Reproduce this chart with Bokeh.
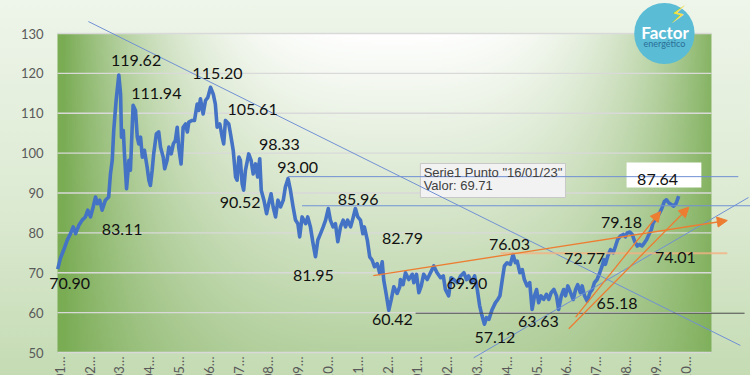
import math
import numpy as np
from bokeh.plotting import figure
from bokeh.models import FixedTicker, Range1d, Label, Arrow, NormalHead
from bokeh.embed import file_html
from bokeh.resources import INLINE

# ---------------- data ----------------
tick_labels = ["01…", "02…", "03…", "04…", "05…", "06…", "07…", "08…", "09…", "10…", "11…",
               "12…", "01…", "02…", "03…", "04…", "05…", "06…", "07…", "08…", "09…", "10…"]
y_ticks = [50, 60, 70, 80, 90, 100, 110, 120, 130]

months = [-0.07, 0.02, 0.13, 0.25, 0.36, 0.45, 0.53, 0.64, 0.75, 0.86, 0.94, 1.03, 1.12, 1.20, 1.26,
          1.34, 1.42, 1.53, 1.64, 1.70, 1.76, 1.81, 1.89, 1.98, 2.04, 2.07, 2.13, 2.17, 2.24, 2.32,
          2.37, 2.46, 2.54, 2.60, 2.65, 2.71, 2.77, 2.84, 2.93, 2.99, 3.04, 3.10, 3.15, 3.24, 3.32,
          3.38, 3.47, 3.52, 3.60, 3.66, 3.74, 3.81, 3.88, 3.94, 3.99, 4.07, 4.14, 4.22, 4.28, 4.33,
          4.44, 4.52, 4.61, 4.66, 4.72, 4.81, 4.89, 4.97, 5.06, 5.15, 5.22, 5.28, 5.37, 5.45, 5.50,
          5.56, 5.67, 5.73, 5.82, 5.90, 5.95, 6.01, 6.06, 6.12, 6.17, 6.23, 6.34, 6.42, 6.49, 6.57,
          6.64, 6.71, 6.76, 6.85, 6.94, 7.01, 7.09, 7.16, 7.24, 7.32, 7.41, 7.50, 7.57, 7.66, 7.74,
          7.83, 7.91, 7.99, 8.05, 8.13, 8.25, 8.32, 8.41, 8.50, 8.58, 8.66, 8.75, 8.84, 8.92, 9.01,
          9.08, 9.17, 9.25, 9.33, 9.42, 9.51, 9.59, 9.66, 9.76, 9.85, 9.92, 10.00, 10.09, 10.17, 10.22,
          10.32, 10.40, 10.48, 10.56, 10.65, 10.74, 10.82, 10.87, 10.95, 11.04, 11.12, 11.21, 11.32, 11.41, 11.43,
          11.52, 11.60, 11.71, 11.83, 11.88, 11.97, 12.05, 12.13, 12.21, 12.33, 12.44, 12.55, 12.66, 12.78, 12.87,
          12.94, 13.05, 13.13, 13.22, 13.34, 13.45, 13.56, 13.65, 13.72, 13.81, 13.92, 14.01, 14.09, 14.17, 14.25,
          14.32, 14.40, 14.51, 14.62, 14.70, 14.77, 14.85, 14.92, 15.01, 15.12, 15.21, 15.29, 15.35, 15.44, 15.52,
          15.59, 15.68, 15.77, 15.85, 15.93, 16.00, 16.07, 16.15, 16.24, 16.33, 16.41, 16.49, 16.58, 16.67, 16.74,
          16.83, 16.91, 16.97, 17.05, 17.14, 17.23, 17.31, 17.38, 17.47, 17.53, 17.61, 17.70, 17.79, 17.87, 17.94,
          18.03, 18.12, 18.20, 18.26, 18.31, 18.39, 18.48, 18.57, 18.65, 18.72, 18.81, 18.91, 18.98, 19.04, 19.13,
          19.21, 19.29, 19.38, 19.46, 19.54, 19.62, 19.69, 19.77, 19.85, 19.91, 19.99, 20.07, 20.13, 20.21, 20.29,
          20.36, 20.44, 20.52, 20.60, 20.69, 20.77]

prices = [70.9, 73.6, 75.7, 78.2, 79.8, 81.5, 79.8, 81.9, 83.2, 84.0, 85.7, 84.0, 86.5, 89.0, 87.3,
          88.2, 85.7, 88.2, 89.0, 94.8, 98.2, 105.7, 113.2, 119.6, 114.8, 104.0, 105.7, 99.8, 91.1, 98.2,
          95.7, 112.0, 110.7, 104.0, 102.3, 104.0, 99.0, 100.7, 96.5, 93.2, 91.9, 95.7, 99.8, 104.8, 105.3,
          101.5, 99.0, 96.1, 98.2, 101.5, 99.8, 102.3, 103.2, 106.5, 101.5, 97.3, 106.5, 107.3, 105.3, 107.8,
          108.2, 108.2, 112.3, 110.7, 113.6, 109.8, 113.2, 114.0, 116.5, 114.8, 112.3, 106.5, 107.3, 104.0, 102.3,
          108.2, 107.3, 104.8, 100.7, 94.0, 93.2, 99.0, 98.2, 92.3, 90.7, 95.7, 99.8, 98.2, 94.8, 97.3,
          94.0, 98.6, 90.7, 88.2, 84.8, 87.3, 89.8, 86.5, 84.0, 88.2, 86.5, 88.2, 91.5, 93.6, 90.7,
          86.5, 83.2, 82.3, 79.0, 84.0, 82.3, 84.0, 81.5, 77.3, 74.0, 78.2, 79.8, 81.5, 83.2, 86.1,
          83.2, 81.5, 82.3, 77.8, 81.5, 83.2, 81.5, 83.2, 81.5, 84.0, 86.1, 84.0, 83.2, 79.8, 81.5,
          78.2, 74.0, 73.2, 71.5, 72.3, 69.8, 72.75, 68.2, 64.8, 60.6, 63.2, 66.5, 64.8, 66.5, 68.3,
          67.0, 70.0, 68.3, 69.6, 67.5, 69.6, 65.0, 66.7, 69.6, 68.3, 70.0, 71.7, 70.0, 68.75, 69.2,
          65.8, 64.2, 68.75, 68.3, 67.5, 69.2, 70.0, 68.3, 69.2, 67.5, 69.2, 65.8, 61.7, 59.2, 57.1,
          58.75, 58.3, 60.8, 62.5, 63.3, 64.2, 68.3, 71.7, 72.5, 72.1, 74.6, 72.5, 72.9, 70.0, 70.8,
          68.3, 66.7, 67.5, 60.8, 64.2, 65.8, 62.5, 64.2, 63.3, 64.6, 63.3, 65.0, 65.8, 64.2, 60.8,
          64.2, 65.8, 64.2, 66.7, 65.0, 63.3, 65.8, 67.0, 65.0, 66.7, 64.2, 62.9, 65.0, 65.8, 67.5,
          68.3, 70.0, 71.7, 73.3, 72.1, 74.2, 75.8, 75.0, 76.7, 78.3, 79.2, 79.6, 79.0, 80.0, 80.2,
          79.6, 77.9, 76.7, 77.1, 76.7, 77.5, 78.3, 79.6, 80.8, 82.5, 83.3, 84.2, 85.0, 86.25, 87.9,
          88.3, 87.5, 87.1, 86.7, 87.5, 89.2]

ann_text = ["119.62", "111.94", "115.20", "105.61", "98.33", "93.00", "90.52", "83.11", "70.90",
            "81.95", "85.96", "82.79", "60.42", "69.90", "76.03", "57.12", "63.63", "72.77",
            "65.18", "79.18", "74.01", "87.64"]
ann_t = [2.56, 3.24, 5.29, 6.47, 7.37, 7.98, 6.05, 2.09, 0.33, 8.51, 10.01, 11.50, 11.16, 13.66,
         15.09, 14.60, 16.06, 17.61, 18.70, 18.85, 20.66, 20.06]
ann_v = [123.35, 114.83, 119.97, 110.82, 102.16, 96.27, 87.62, 80.97, 67.18, 69.31, 88.37, 78.71,
         58.28, 67.30, 77.09, 53.64, 57.77, 73.57, 62.41, 82.48, 73.70, 93.39]

# hand-drawn trend lines (start t, start v, end t, end v)
blue_lines = [(0.96, 133.0, 22.84, 51.76), (7.66, 94.1, 22.77, 94.1),
              (8.13, 86.8, 23.18, 86.8), (13.89, 48.67, 23.11, 88.87)]
dark_lines = [(11.94, 59.85, 22.98, 59.85)]
orange_arrows = [(10.52, 69.3, 22.40, 83.1), (17.08, 55.94, 21.11, 86.44), (17.31, 58.85, 20.16, 85.36)]
orange_faded = [(14.79, 74.9, 22.40, 74.9)]

tooltip_lines = ['Serie1 Punto "16/01/23"', "Valor: 69.71"]

# ---------------- figure ----------------
X0, X1 = -0.077, 21.869        # plot-area extent (months)
Y0, Y1 = 50, 130               # plot-area extent (values)
p = figure(width=750, height=375, x_range=Range1d(-1.990, 23.179), y_range=Range1d(44.232, 138.276),
           output_backend="svg", toolbar_location=None,
           min_border_left=0, min_border_right=0, min_border_top=0, min_border_bottom=0)
p.border_fill_alpha = 0
p.background_fill_alpha = 0
p.outline_line_color = None
p.styles = {"background": "linear-gradient(to bottom, #eef5ea 0%, #dcead2 55%, #c4dbb3 100%)"}

# plot-area gradient
H, W = 160, 327
xs = np.linspace(0, 654, W)
ys = np.linspace(0, 319, H)
XX, YY = np.meshgrid(xs, ys)
dx = np.abs((XX + 57) - 392) / 330.0
fx = np.clip(dx, 0, 1) ** 3
fy = np.clip(YY / 319.0, 0, 1) * 0.55
f = 1 - (1 - fx) * (1 - fy)
edge = np.array([122, 172, 84], dtype=float)
rgb = 255 + (edge - 255) * f[..., None]
img = np.zeros((H, W), dtype=np.uint32)
view = img.view(dtype=np.uint8).reshape((H, W, 4))
view[..., :3] = np.clip(rgb, 0, 255).astype(np.uint8)
view[..., 3] = 255
img = np.ascontiguousarray(img[::-1])
p.image_rgba(image=[img], x=X0, y=Y0, dw=X1 - X0, dh=Y1 - Y0, level="image")

# gridlines limited to the plot area
p.xgrid.grid_line_color = None
p.ygrid.grid_line_color = None
p.segment(x0=[X0] * len(y_ticks), x1=[X1] * len(y_ticks), y0=y_ticks, y1=y_ticks,
          line_color="#d9d9d9", line_width=1.3, level="underlay")

# axes pinned to the plot-area edges
p.yaxis.ticker = FixedTicker(ticks=y_ticks)
p.yaxis.fixed_location = X0
p.yaxis.axis_line_color = None
p.yaxis.major_tick_line_color = None
p.yaxis.minor_tick_line_color = None
p.yaxis.major_tick_out = 0
p.yaxis.major_tick_in = 0
p.yaxis.major_label_standoff = 14
p.yaxis.major_label_text_font = "Lato"
p.yaxis.major_label_text_font_size = "13px"
p.yaxis.major_label_text_color = "#595959"

p.xaxis.ticker = FixedTicker(ticks=list(range(len(tick_labels))))
p.xaxis.major_label_overrides = {i: s for i, s in enumerate(tick_labels)}
p.xaxis.fixed_location = Y0
p.xaxis.axis_line_color = None
p.xaxis.major_tick_line_color = None
p.xaxis.minor_tick_line_color = None
p.xaxis.major_tick_out = 0
p.xaxis.major_tick_in = 0
p.xaxis.major_label_standoff = 4
p.xaxis.major_label_orientation = math.pi / 2
p.xaxis.major_label_text_font = "Lato"
p.xaxis.major_label_text_font_size = "13px"
p.xaxis.major_label_text_color = "#595959"

# boxes
p.quad(left=[19.02], right=[21.53], top=[97.65], bottom=[91.38], fill_color="white", line_color=None)
p.quad(left=[12.10], right=[16.97], top=[97.40], bottom=[88.87], fill_color="#f2f2f2",
       line_color="#c8c8c8", line_width=1)

# series
p.line(months, prices, line_color="#4472c4", line_width=3.6, line_join="round")

# trend lines
for (a, b, c, d) in blue_lines:
    p.add_layout(Arrow(end=None, x_start=a, y_start=b, x_end=c, y_end=d,
                       line_color="#7090d4", line_width=1))
for (a, b, c, d) in dark_lines:
    p.add_layout(Arrow(end=None, x_start=a, y_start=b, x_end=c, y_end=d,
                       line_color="#4a4a4a", line_width=1))
for (a, b, c, d) in orange_faded:
    p.add_layout(Arrow(end=None, x_start=a, y_start=b, x_end=c, y_end=d,
                       line_color="#f4b183", line_width=2, line_alpha=0.8))
for (a, b, c, d) in orange_arrows:
    p.add_layout(Arrow(end=NormalHead(size=10, fill_color="#ed7d31", line_color="#ed7d31"),
                       x_start=a, y_start=b, x_end=c, y_end=d,
                       line_color="#ed7d31", line_width=1.3))

# data labels
for t, v, s in zip(ann_t, ann_v, ann_text):
    p.add_layout(Label(x=t, y=v, text=s, text_align="center", text_baseline="middle",
                       text_font="Lato", text_font_size="16px", text_color="#111111"))

# tooltip text
p.add_layout(Label(x=12.21, y=95.14, text=tooltip_lines[0], text_align="left", text_baseline="middle",
                   text_font="Liberation Sans", text_font_size="13px", text_color="#404040"))
p.add_layout(Label(x=12.21, y=91.88, text=tooltip_lines[1], text_align="left", text_baseline="middle",
                   text_font="Liberation Sans", text_font_size="13px", text_color="#404040"))

# logo
p.add_layout(Label(x=20.29, y=130.0, text=" ", text_align="center", text_baseline="middle",
                   text_font_size="1px", background_fill_color="#5bbcd6", padding=30, border_radius=30))
p.add_layout(Label(x=20.31, y=130.2, text="Factor", text_align="center", text_baseline="middle",
                   text_font="Lato", text_font_style="bold", text_font_size="17px", text_color="white"))
p.add_layout(Label(x=20.29, y=127.5, text="energético", text_align="center", text_baseline="middle",
                   text_font="Lato", text_font_size="9px", text_color="#2a6f97"))
p.add_layout(Label(x=20.76, y=134.6, text="⚡", text_align="center", text_baseline="middle",
                   text_font="DejaVu Sans", text_font_size="24px", text_color="#f2e04a"))

open("out.html", "w").write(file_html(p, INLINE))
